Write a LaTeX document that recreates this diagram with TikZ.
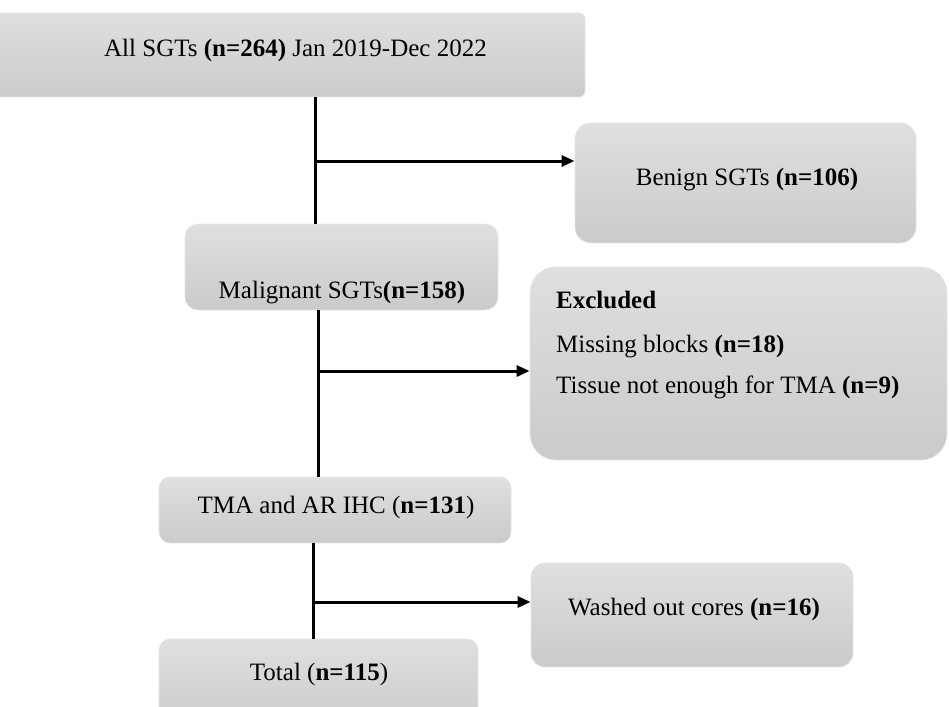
\documentclass[tikz,border=0pt]{standalone}
\usepackage{fontspec}
\setmainfont{Liberation Serif}
\usetikzlibrary{arrows.meta}

\tikzset{
  box/.style={rectangle, rounded corners=#1, top color=gray!25, bottom color=gray!41,
    draw=gray!20, line width=0.8pt, inner sep=0pt},
  box/.default=14pt,
  txt/.style={font=\fontsize{25}{30}\selectfont, inner sep=0pt, anchor=base},
  flow/.style={line width=3pt, black},
  tip/.style={flow, -{Triangle[length=13pt,width=11pt]}},
}

\begin{document}
\begin{tikzpicture}[x=1pt, y=-1pt]
    \useasboundingbox (0,0) rectangle (949,706);
    \clip (0,0) rectangle (949,706);

    % Boxes
    \node[box=6pt, minimum width=595pt, minimum height=84pt] (all) at (287.5,55) {};
    \node[box=16pt, minimum width=341pt, minimum height=120pt] (benign) at (745.5,183) {};
    \node[box=13pt, minimum width=313pt, minimum height=86pt] (mal) at (341.5,267) {};
    \node[box=26pt, minimum width=417pt, minimum height=193pt] (excl) at (738.5,363.5) {};
    \node[box=11pt, minimum width=352pt, minimum height=66pt] (tma) at (335,510) {};
    \node[box=11pt, minimum width=319pt, minimum height=91pt] (total) at (318.5,684.5) {};
    \node[box=14pt, minimum width=322pt, minimum height=104pt] (washed) at (692,615) {};

    % Texts
    \node[txt] (all-t) at (295.5,57) {All SGTs \textbf{(n=264)} Jan 2019-Dec 2022};
    \node[txt] (benign-t) at (747,185) {Benign SGTs \textbf{(n=106)}};
    \node[txt] (mal-t) at (342,298) {Malignant SGTs\textbf{(n=158)}};
    \node[txt, anchor=base west] (excl-t1) at (556,308) {\textbf{Excluded}};
    \node[txt, anchor=base west] (excl-t2) at (556,352) {Missing blocks \textbf{(n=18)}};
    \node[txt, anchor=base west] (excl-t3) at (556,393) {Tissue not enough for TMA \textbf{(n=9)}};
    \node[txt] (tma-t) at (336,513) {TMA and AR IHC (\textbf{n=131})};
    \node[txt] (total-t) at (319,680) {Total (\textbf{n=115})};
    \node[txt] (washed-t) at (694,615) {Washed out cores \textbf{(n=16)}};

    % Branch points
    \coordinate (b1) at (315,161);
    \coordinate (b2) at (318,371);
    \coordinate (b3) at (313,602);

    % Arrows
    \draw[flow] (all.south -| b1) -- (mal.north -| b1);
    \draw[tip] (b1) -- (b1 -| benign.west);
    \draw[flow] (mal.south -| b2) -- (tma.north -| b2);
    \draw[tip] (b2) -- (b2 -| excl.west);
    \draw[flow] (tma.south -| b3) -- (total.north -| b3);
    \draw[tip] (b3) -- (b3 -| washed.west);
\end{tikzpicture}
\end{document}
